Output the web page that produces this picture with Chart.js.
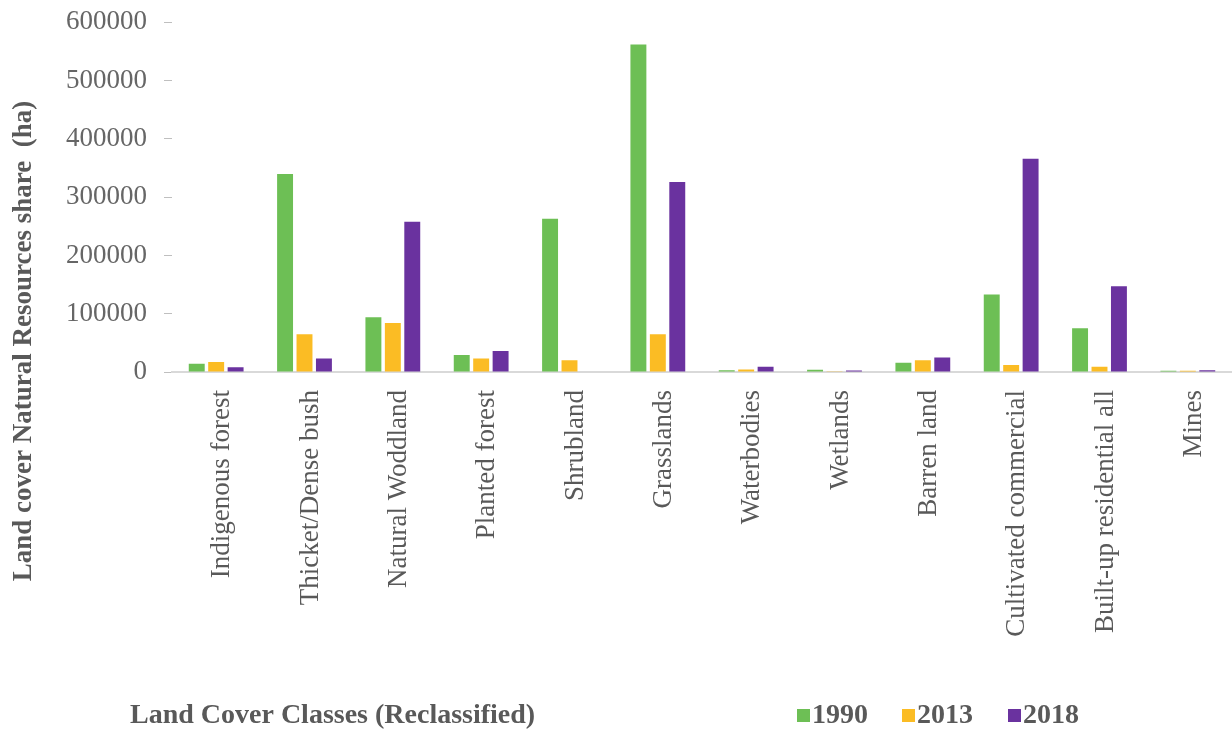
<!DOCTYPE html>
<html>
<head>
<meta charset="utf-8">
<script src="https://cdn.jsdelivr.net/npm/chart.js@4.4.1/dist/chart.umd.min.js"></script>
<style>
  html, body { margin: 0; padding: 0; background: #ffffff; }
  #wrap { width: 1232px; height: 730px; position: relative; }
</style>
</head>
<body>
<div id="wrap"><canvas id="c" width="1232" height="730"></canvas></div>
<script>
const categories = ['Indigenous forest', 'Thicket/Dense bush', 'Natural Woddland', 'Planted forest', 'Shrubland', 'Grasslands', 'Waterbodies', 'Wetlands', 'Barren land', 'Cultivated commercial', 'Built-up residential all', 'Mines'];
const seriesNames = ['1990', '2013', '2018'];
const values1990 = [14000, 340000, 94000, 29000, 263000, 562000, 3000, 4000, 16000, 133000, 75000, 2000];
const values2013 = [17000, 65000, 84000, 23000, 20000, 65000, 4500, 500, 20000, 12000, 9000, 2000];
const values2018 = [8000, 23000, 258000, 36000, 0, 326000, 9000, 2500, 25000, 366000, 147000, 3000];
const yTicks = [0, 100000, 200000, 300000, 400000, 500000, 600000];
const colors = ['#6dbf55', '#fbbc24', '#6a329f'];
const yTitle = 'Land cover Natural Resources share  (ha)';
const xTitle = 'Land Cover Classes (Reclassified)';

const FONT = "'Liberation Serif', 'DejaVu Serif', serif";
Chart.defaults.font.family = FONT;

const titlePlugin = {
  id: 'titlesAndLegend',
  afterDraw(chart) {
    const ctx = chart.ctx;
    ctx.save();
    ctx.fillStyle = '#595959';
    ctx.font = "bold 27px " + FONT;
    ctx.textAlign = 'center';
    ctx.textBaseline = 'middle';
    ctx.translate(24, 341);
    ctx.rotate(-Math.PI / 2);
    ctx.fillText(yTitle, 0, 0);
    ctx.restore();

    ctx.save();
    ctx.fillStyle = '#595959';
    ctx.font = "bold 28px " + FONT;
    ctx.textAlign = 'left';
    ctx.textBaseline = 'middle';
    ctx.fillText(xTitle, 130, 716);
    const starts = [797, 902, 1008];
    chart.data.datasets.forEach((ds, i) => {
      const x = starts[i];
      ctx.fillStyle = ds.backgroundColor;
      ctx.fillRect(x, 709, 13, 13);
      ctx.fillStyle = '#595959';
      ctx.fillText(ds.label, x + 15, 716);
    });
    ctx.restore();
  }
};

new Chart(document.getElementById('c'), {
  type: 'bar',
  data: {
    labels: categories,
    datasets: [
      { label: seriesNames[0], data: values1990, backgroundColor: colors[0] },
      { label: seriesNames[1], data: values2013, backgroundColor: colors[1] },
      { label: seriesNames[2], data: values2018, backgroundColor: colors[2] }
    ]
  },
  options: {
    responsive: false,
    animation: false,
    devicePixelRatio: 1,
    layout: { padding: { top: 0, right: 0, bottom: 0, left: 0 } },
    datasets: { bar: { barPercentage: 0.82, categoryPercentage: 0.66 } },
    plugins: {
      legend: { display: false },
      tooltip: { enabled: false }
    },
    scales: {
      x: {
        grid: { display: false },
        border: { display: true, color: '#d9d9d9', width: 2 },
        ticks: {
          color: '#595959',
          font: { size: 27 },
          minRotation: 90,
          maxRotation: 90,
          autoSkip: false,
          padding: 10,
          labelOffset: 6
        },
        afterFit(scale) { scale.height = 358; }
      },
      y: {
        min: 0,
        max: 600000,
        afterBuildTicks(scale) { scale.ticks = yTicks.map(v => ({ value: v })); },
        grid: { display: true, drawOnChartArea: false, drawTicks: true, tickLength: 8, color: '#bfbfbf' },
        border: { display: false },
        ticks: {
          color: '#666666',
          font: { size: 27, lineHeight: 0.4 },
          padding: 17,
          callback: (v) => String(v)
        },
        afterFit(scale) { scale.width = 172; }
      }
    }
  },
  plugins: [titlePlugin]
});
</script>
</body>
</html>
